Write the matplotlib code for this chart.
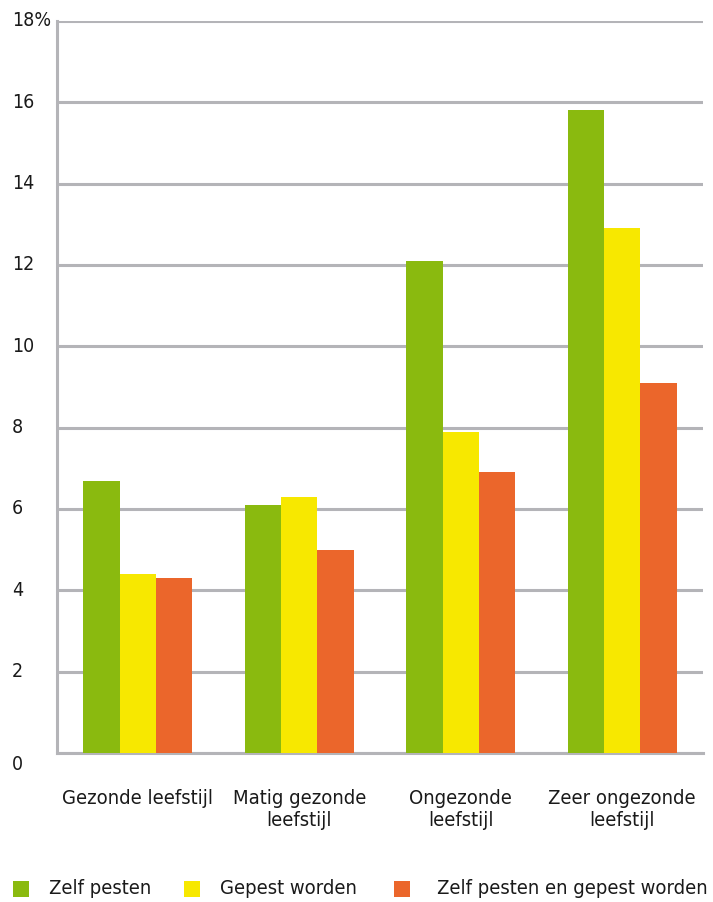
import matplotlib
matplotlib.use("Agg")
import matplotlib.pyplot as plt
from matplotlib.patches import Rectangle
from matplotlib.transforms import blended_transform_factory, offset_copy
import numpy as np

categories = ["Gezonde leefstijl", "Matig gezonde\nleefstijl", "Ongezonde\nleefstijl", "Zeer ongezonde\nleefstijl"]
series_names = ["Zelf pesten", "Gepest worden", "Zelf pesten en gepest worden"]
zelf_pesten = [6.7, 6.1, 12.1, 15.8]
gepest_worden = [4.4, 6.3, 7.9, 12.9]
beide = [4.3, 5.0, 6.9, 9.1]
yticks = [0, 2, 4, 6, 8, 10, 12, 14, 16, 18]
ytick_labels = ["0", "2", "4", "6", "8", "10", "12", "14", "16", "18%"]

colors = ["#8aba0f", "#f7e800", "#eb662b"]
grid_col = "#b4b4b8"
font = {"family": "DejaVu Sans", "stretch": "condensed"}
plt.rcParams["font.family"] = "DejaVu Sans"

fig = plt.figure(figsize=(7.13, 9.02), dpi=100)
ax = fig.add_axes([57 / 713, 1 - 753 / 902, 646 / 713, (753 - 21) / 902])

x = np.arange(len(categories))
w = 0.225
for i, vals in enumerate([zelf_pesten, gepest_worden, beide]):
    ax.bar(x + (i - 1) * w, vals, width=w, color=colors[i], zorder=3, linewidth=0)

ax.set_xlim(-0.5, len(categories) - 0.5)
ax.set_ylim(0, 18)
ax.set_yticks(yticks)
ax.yaxis.grid(True, color=grid_col, linewidth=2.2, zorder=0)
ax.set_axisbelow(True)
ax.tick_params(left=False, bottom=False, labelleft=False, labelbottom=False)
for s in ["top", "right"]:
    ax.spines[s].set_visible(False)
for s in ["left", "bottom"]:
    ax.spines[s].set_color(grid_col)
    ax.spines[s].set_linewidth(2.2)

# y tick labels, left-aligned at the figure edge
tr = blended_transform_factory(fig.transFigure, ax.transData)
for v, lab in zip(yticks, ytick_labels):
    t = offset_copy(tr, fig=fig, x=0, y=(-12 if v == 0 else 0), units="dots")
    ax.text(12 / 713, v, lab, transform=t, ha="left", va="center",
            fontsize=14, color="#1a1a1a", clip_on=False, **font)

# category labels
trx = blended_transform_factory(ax.transData, fig.transFigure)
for xi, cat in zip(x, categories):
    ax.text(xi, 1 - 789 / 902, cat, transform=trx, ha="center", va="top",
            fontsize=14.5, color="#1a1a1a", linespacing=1.2, clip_on=False, **font)

# legend
sq_x = [13, 184, 394]
txt_x = [49, 220, 437]
ly = 889
for i, name in enumerate(series_names):
    fig.patches.append(Rectangle((sq_x[i] / 713, 1 - (ly + 8) / 902), 16 / 713, 16 / 902,
                                 transform=fig.transFigure, color=colors[i], linewidth=0))
    fig.text(txt_x[i] / 713, 1 - ly / 902, name, ha="left", va="center",
             fontsize=14.5, color="#1a1a1a", **font)

fig.savefig("out.png", dpi=100, facecolor="white")
